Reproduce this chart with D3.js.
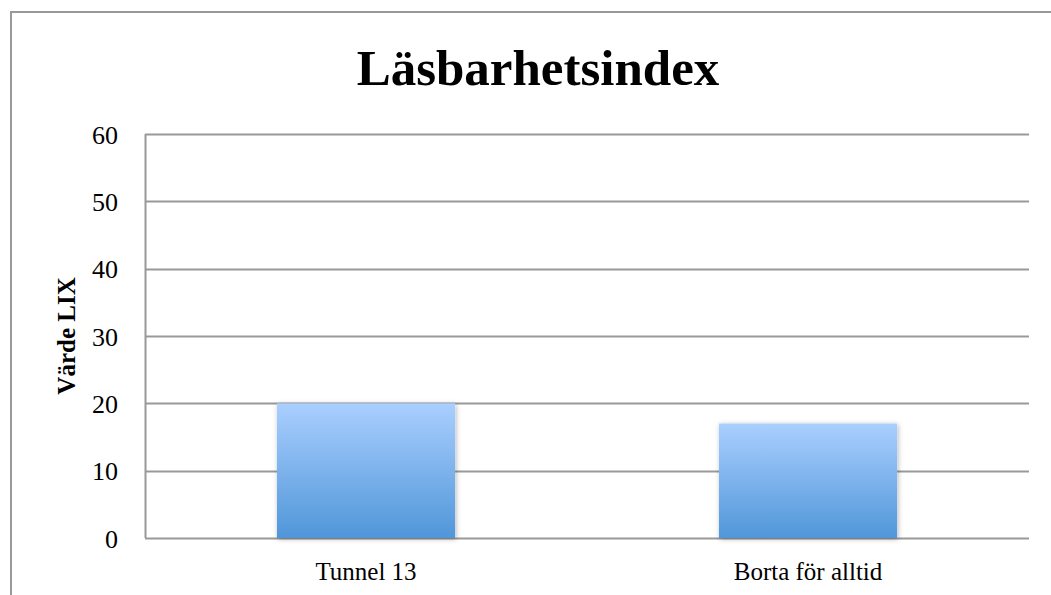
<!DOCTYPE html>
<html>
<head>
<meta charset="utf-8">
<script src="https://cdn.jsdelivr.net/npm/d3@7"></script>
<style>
  body { margin: 0; background: #fff; }
  svg { display: block; }
  text { font-family: "Liberation Serif", "DejaVu Serif", serif; fill: #000; }
</style>
</head>
<body>
<div id="chart"></div>
<script>
// chart data
const categories = ["Tunnel 13", "Borta för alltid"];
const lixValues = [20, 17];
const yTicks = [0, 10, 20, 30, 40, 50, 60];
const chartTitle = "Läsbarhetsindex";
const yLabel = "Värde LIX";

const W = 1051, H = 595;
const margin = { top: 134, right: 22, bottom: 57, left: 145 };
const width = W - margin.left - margin.right;
const height = H - margin.top - margin.bottom;

const svg = d3.select("#chart")
    .append("svg")
    .attr("width", W)
    .attr("height", H);

const defs = svg.append("defs");

// bar gradient
const grad = defs.append("linearGradient")
    .attr("id", "barGrad")
    .attr("x1", 0).attr("y1", 0).attr("x2", 0).attr("y2", 1);
grad.append("stop").attr("offset", "0%").attr("stop-color", "#aacfff");
grad.append("stop").attr("offset", "100%").attr("stop-color", "#5096d9");

// soft shadow round the bars
const shadow = defs.append("filter")
    .attr("id", "barShadow")
    .attr("x", "-10%").attr("y", "-10%")
    .attr("width", "120%").attr("height", "120%");
shadow.append("feDropShadow")
    .attr("dx", 1).attr("dy", 1)
    .attr("stdDeviation", 2.5)
    .attr("flood-color", "#000")
    .attr("flood-opacity", 0.3);

// outer frame
svg.append("rect")
    .attr("x", 11).attr("y", 12)
    .attr("width", W + 10).attr("height", H + 10)
    .attr("fill", "none")
    .attr("stroke", "#999")
    .attr("stroke-width", 2);

// title
svg.append("text")
    .attr("x", 538)
    .attr("y", 85)
    .attr("text-anchor", "middle")
    .style("font-size", "51px")
    .style("font-weight", "bold")
    .text(chartTitle);

const chartG = svg.append("g")
    .attr("transform", `translate(${margin.left},${margin.top})`);

const xScale = d3.scaleBand()
    .domain(categories)
    .range([0, width])
    .paddingInner(0.597)
    .paddingOuter(0.2985);

const yScale = d3.scaleLinear()
    .domain([0, 60])
    .range([height, 0]);

// gridlines
chartG.append("g")
    .attr("class", "grid")
    .selectAll("line")
    .data(yTicks)
    .join("line")
    .attr("x1", 0)
    .attr("x2", width)
    .attr("y1", d => Math.round(yScale(d)) + 0.5)
    .attr("y2", d => Math.round(yScale(d)) + 0.5)
    .attr("stroke", "#999")
    .attr("stroke-width", 2);

// y axis line
chartG.append("line")
    .attr("x1", 0.5).attr("x2", 0.5)
    .attr("y1", 0).attr("y2", height)
    .attr("stroke", "#999")
    .attr("stroke-width", 2);

// y tick labels
const yAxis = chartG.append("g")
    .call(d3.axisLeft(yScale).tickValues(yTicks).tickSize(0).tickPadding(27));
yAxis.select(".domain").remove();
yAxis.selectAll("text")
    .style("font-size", "26px")
    .attr("dy", "0.35em");

// bars
chartG.selectAll(".bar")
    .data(lixValues)
    .join("rect")
    .attr("class", "bar")
    .attr("x", (d, i) => xScale(categories[i]))
    .attr("y", d => yScale(d))
    .attr("width", xScale.bandwidth())
    .attr("height", d => height - yScale(d))
    .attr("fill", "url(#barGrad)")
    .attr("filter", "url(#barShadow)");

// x labels
const xAxis = chartG.append("g")
    .attr("transform", `translate(0,${height})`)
    .call(d3.axisBottom(xScale).tickSize(0).tickPadding(24));
xAxis.select(".domain").remove();
xAxis.selectAll("text")
    .style("font-size", "25px");

// y axis title
svg.append("text")
    .attr("transform", "translate(75,336) rotate(-90)")
    .attr("text-anchor", "middle")
    .style("font-size", "25px")
    .style("font-weight", "bold")
    .text(yLabel);
</script>
</body>
</html>
